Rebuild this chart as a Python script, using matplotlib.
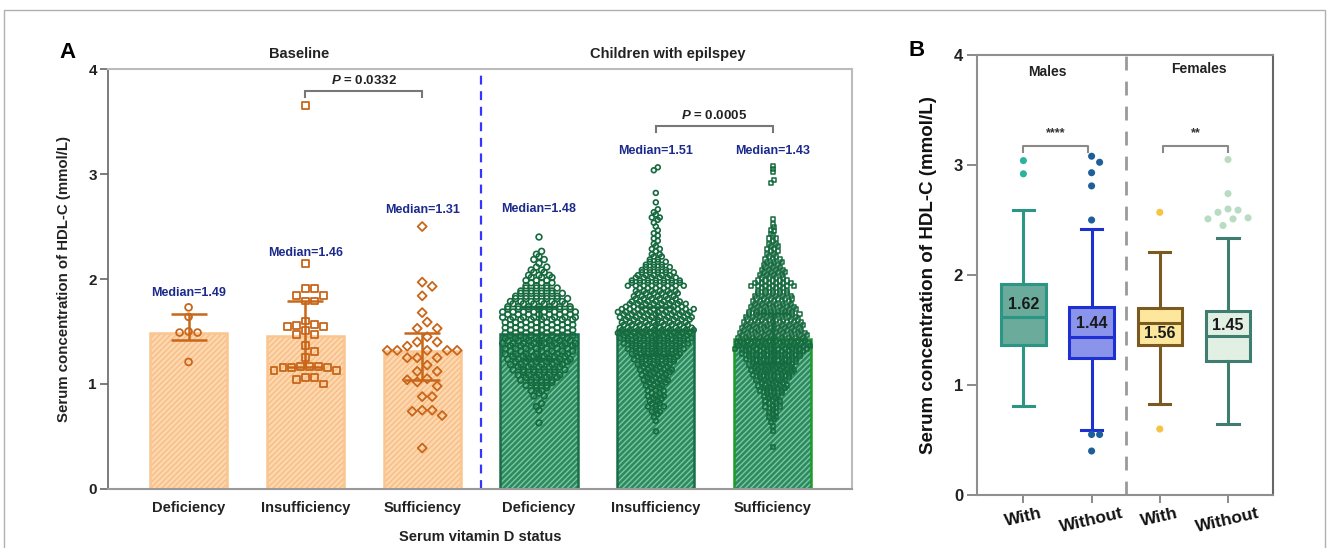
"""Vitamin D status vs serum HDL-C: bar + scatter (A) and boxplots by sex (B)."""

import numpy as np
import matplotlib
matplotlib.use("Agg")
import matplotlib.pyplot as plt
from matplotlib.patches import Rectangle

plt.rcParams["font.family"] = ["Liberation Sans", "DejaVu Sans"]
plt.rcParams["font.weight"] = "bold"
plt.rcParams["mathtext.fontset"] = "custom"
plt.rcParams["mathtext.bfit"] = "Liberation Sans:italic:bold"
plt.rcParams["mathtext.rm"] = "Liberation Sans:bold"
plt.rcParams["hatch.linewidth"] = 1.0

# ---------------- panel A data ----------------
A_CATS = ["Deficiency", "Insufficiency", "Sufficiency",
          "Deficiency", "Insufficiency", "Sufficiency"]
A_MEDIANS = [1.49, 1.46, 1.31, 1.48, 1.51, 1.43]
A_IQR_LO = [1.42, 1.16, 1.04, 1.24, 1.28, 1.20]
A_IQR_HI = [1.67, 1.79, 1.49, 1.73, 1.73, 1.68]
A_P_TEXT = ["0.0332", "0.0005"]

# baseline individual values
BASE_DEF = [1.73, 1.64, 1.50, 1.49, 1.49, 1.21]
BASE_INS = [3.65, 2.15, 1.91, 1.91, 1.84, 1.84, 1.79, 1.79, 1.60, 1.57,
            1.56, 1.55, 1.55, 1.51, 1.47, 1.47, 1.37, 1.31, 1.25, 1.17,
            1.17, 1.17, 1.16, 1.16, 1.16, 1.13, 1.13, 1.06, 1.06, 1.04, 1.00]
BASE_SUF = [2.50, 1.97, 1.93, 1.84, 1.68, 1.59, 1.53, 1.53, 1.45, 1.40,
            1.40, 1.36, 1.32, 1.32, 1.32, 1.32, 1.32, 1.25, 1.25, 1.25,
            1.18, 1.12, 1.12, 1.05, 1.04, 1.02, 0.98, 0.88, 0.88, 0.75,
            0.75, 0.74, 0.70, 0.39]

EPI_DEF_LEVELS = [2.40, 2.25, 2.20, 2.15, 2.10, 2.05, 2.00, 1.95, 1.90, 1.85,
                  1.80, 1.75, 1.70, 1.65, 1.60, 1.55, 1.50, 1.45, 1.40, 1.35,
                  1.30, 1.25, 1.20, 1.15, 1.10, 1.05, 1.00, 0.95, 0.90, 0.80,
                  0.75, 0.63]
EPI_DEF_COUNTS = [1, 2, 3, 1, 4, 5, 6, 6, 8, 10,
                  12, 13, 15, 15, 14, 14, 14, 14, 15, 14,
                  14, 13, 12, 11, 9, 8, 6, 4, 3, 2,
                  1, 1]

EPI_INS_LEVELS = [3.05, 2.82, 2.73, 2.65, 2.60, 2.55, 2.50, 2.45, 2.40, 2.35,
                  2.30, 2.25, 2.20, 2.15, 2.10, 2.05, 2.00, 1.95, 1.90, 1.85,
                  1.80, 1.75, 1.70, 1.65, 1.60, 1.55, 1.50, 1.45, 1.40, 1.35,
                  1.30, 1.25, 1.20, 1.15, 1.10, 1.05, 1.00, 0.95, 0.90, 0.85,
                  0.80, 0.75, 0.70, 0.65, 0.55]
EPI_INS_COUNTS = [2, 1, 1, 2, 3, 2, 1, 2, 2, 2,
                  3, 3, 4, 6, 8, 10, 13, 15, 11, 12,
                  13, 16, 20, 19, 18, 19, 20, 19, 17, 15,
                  13, 12, 10, 9, 8, 7, 6, 5, 5, 4,
                  5, 3, 2, 1, 1]

EPI_SUF_LEVELS = [3.08, 3.05, 3.02, 2.93, 2.57, 2.52, 2.48, 2.44, 2.40, 2.35,
                  2.30, 2.25, 2.20, 2.15, 2.10, 2.05, 2.00, 1.95, 1.90, 1.85,
                  1.80, 1.75, 1.70, 1.65, 1.60, 1.55, 1.50, 1.45, 1.40, 1.35,
                  1.30, 1.25, 1.20, 1.15, 1.10, 1.05, 1.00, 0.95, 0.90, 0.85,
                  0.80, 0.75, 0.70, 0.65, 0.60, 0.55, 0.40]
EPI_SUF_COUNTS = [1, 1, 1, 2, 1, 1, 2, 2, 3, 3,
                  4, 4, 5, 6, 7, 8, 9, 13, 9, 11,
                  12, 13, 14, 16, 17, 18, 19, 20, 21, 22,
                  18, 16, 14, 13, 12, 10, 9, 8, 6, 5,
                  5, 3, 3, 2, 1, 1, 1]

# ---------------- panel B data ----------------
B_CATS = ["With", "Without", "With", "Without"]
B_MED = [1.62, 1.44, 1.56, 1.45]
B_Q1 = [1.36, 1.25, 1.36, 1.22]
B_Q3 = [1.92, 1.71, 1.70, 1.67]
B_WLO = [0.81, 0.59, 0.83, 0.65]
B_WHI = [2.59, 2.42, 2.21, 2.34]
B_FLIERS = [[3.04, 2.92],
            [3.08, 3.025, 2.93, 2.81, 2.50, 0.55, 0.55, 0.40],
            [2.57, 0.60],
            [3.05, 2.74, 2.60, 2.59, 2.57, 2.52, 2.51, 2.51, 2.45]]
B_STARS = ["****", "**"]

# ---------------- styles ----------------
BASE_FILL, BASE_HATCH, BASE_EDGE, BASE_PT = "#fdd8ae", "#f8bd86", "#fbc590", "#c8661a"
EPI_FILL, EPI_HATCH, EPI_EDGE, EPI_PT = "#2b8a5f", "#7cc6a0", "#1b6c48", "#156a3e"
MEDIAN_TXT = "#1c2a8c"
B_FACE = ["#6aab9b", "#8a94ea", "#fde79c", "#e2f0e4"]
B_EDGE = ["#2a9683", "#1f30d0", "#7b5a22", "#3f7d70"]
B_FLIER_C = ["#2bb39d", "#1f5f99", "#f6c343", "#b8dcc2"]


def swarm(values, d_px, sx, sy):
    """Greedy beeswarm: x offsets (data units) so markers don't overlap."""
    placed, out = [], []
    for v in values:
        y = v * sy
        for k in range(400):
            m = (k + 1) // 2 * (1 if k % 2 else -1)
            x = m * d_px / 2
            if all((x - px) ** 2 + (y - py) ** 2 >= d_px ** 2 for px, py in placed):
                break
        placed.append((x, y))
        out.append(x / sx)
    return np.array(out)


def rows(levels, counts, dx, dy):
    xs, ys = [], []
    for lv, n in zip(levels, counts):
        idx = np.arange(n)
        xs.extend((idx - (n - 1) / 2) * dx)
        if n > 1:
            ys.extend(lv + np.where(idx % 2 == 0, -dy, dy))
        else:
            ys.append(lv)
    return np.array(xs), np.array(ys)


fig = plt.figure(figsize=(13.28, 5.48), dpi=100)
fig.patches.append(Rectangle((4 / 1328, -0.05), 1321 / 1328, 1.05 - 10 / 548,
                             transform=fig.transFigure, fill=False,
                             edgecolor="#b0b0b0", linewidth=1.0))

# ================= panel A =================
ax = fig.add_axes([0.0813, 0.1077, 0.5603, 0.7663])
SX, SY = 117.0, 105.0  # px per data unit
x = np.arange(len(A_CATS))
fills = [BASE_FILL] * 3 + [EPI_FILL] * 3
hatches = [BASE_HATCH] * 3 + [EPI_HATCH] * 3
edges = [BASE_EDGE] * 3 + [EPI_EDGE] * 2 + ["#1f9a2a"]
ax.bar(x, A_MEDIANS, width=0.66, color=fills, edgecolor=hatches,
       hatch="//////", linewidth=0, zorder=1)
ax.bar(x, A_MEDIANS, width=0.66, fill=False, edgecolor=edges,
       linewidth=1.8, zorder=1.5)

for i in range(6):
    c = BASE_PT if i < 3 else EPI_PT
    ax.errorbar(x[i], A_MEDIANS[i],
                yerr=[[A_MEDIANS[i] - A_IQR_LO[i]], [A_IQR_HI[i] - A_MEDIANS[i]]],
                fmt="none", ecolor=c, elinewidth=1.8, capsize=13, capthick=1.8,
                zorder=3 if i < 3 else 2)

for i, (vals, mk, s, d) in enumerate([(BASE_DEF, "o", 24, 9),
                                      (BASE_INS, "s", 24, 9),
                                      (BASE_SUF, "D", 21, 10)]):
    off = swarm(vals, d, SX, SY)
    ax.scatter(x[i] + off, vals, marker=mk, s=s, facecolors="none",
               edgecolors=BASE_PT, linewidths=1.3, zorder=4)

for i, (lv, ct, mk, s, dx, lw) in zip(
        [3, 4, 5],
        [(EPI_DEF_LEVELS, EPI_DEF_COUNTS, "o", 17, 5.2, 1.2),
         (EPI_INS_LEVELS, EPI_INS_COUNTS, "o", 12, 4.0, 1.2),
         (EPI_SUF_LEVELS, EPI_SUF_COUNTS, "s", 9, 3.6, 1.1)]):
    xs, ys = rows(lv, ct, dx / SX, 0.014)
    ax.scatter(x[i] + xs, ys, marker=mk, s=s, facecolors="none",
               edgecolors=EPI_PT, linewidths=lw, zorder=4)

median_y = [1.87, 2.25, 2.66, 2.67, 3.22, 3.22]
for i in range(6):
    ax.text(x[i], median_y[i], f"Median={A_MEDIANS[i]:.2f}", ha="center",
            va="center", fontsize=9, fontweight="bold", color=MEDIAN_TXT)

for (a, b), yb, yt, p in [((1, 2), 3.79, 3.89, A_P_TEXT[0]),
                          ((4, 5), 3.46, 3.56, A_P_TEXT[1])]:
    ax.plot([a, a, b, b], [yb - 0.06, yb, yb, yb - 0.06], color="#777777",
            linewidth=1.5, solid_joinstyle="miter", zorder=5)
    ax.text((a + b) / 2, yt, r"$\mathbfit{P}$ = " + p, ha="center",
            va="center", fontsize=9.5, fontweight="bold", color="#222222")

ax.axvline(2.5, ymin=0, ymax=1, color="#3535ff", linewidth=1.6,
           dashes=(4, 3), zorder=0.5)

ax.text(0.95, 4.14, "Baseline", ha="center", va="center", fontsize=10.5,
        fontweight="bold", color="#222222", clip_on=False)
ax.text(4.1, 4.14, "Children with epilspey", ha="center", va="center",
        fontsize=10.5, fontweight="bold", color="#222222", clip_on=False)

ax.set_xlim(-0.69, 5.68)
ax.set_ylim(0, 4)
ax.set_yticks([0, 1, 2, 3, 4])
ax.set_xticks(x)
ax.set_xticklabels(A_CATS, fontsize=10.5, fontweight="bold")
ax.tick_params(axis="x", length=0, pad=9, colors="#222222")
ax.tick_params(axis="y", length=6, width=1.2, labelsize=11, pad=2,
               color="#666666", labelcolor="#222222")
for lab in ax.get_yticklabels():
    lab.set_fontweight("bold")
ax.spines["left"].set_color("#666666")
ax.spines["left"].set_linewidth(1.2)
ax.spines["bottom"].set_color("#999999")
ax.spines["bottom"].set_linewidth(1.5)
ax.spines["top"].set_color("#bbbbbb")
ax.spines["top"].set_linewidth(1.5)
ax.spines["right"].set_color("#bbbbbb")
ax.spines["right"].set_linewidth(1.5)
ax.set_ylabel("Serum concentration of HDL-C (mmol/L)", fontsize=10.8,
              fontweight="bold", color="#222222")
ax.yaxis.set_label_coords(-0.05, 0.5)

fig.text(480 / 1328, 1 - 537 / 548, "Serum vitamin D status", ha="center",
         va="center", fontsize=10.5, fontweight="bold", color="#222222")
fig.text(68 / 1328, 1 - 52 / 548, "A", ha="center", va="center",
         fontsize=16, fontweight="bold")
fig.text(917 / 1328, 1 - 50 / 548, "B", ha="center", va="center",
         fontsize=16, fontweight="bold")

# ================= panel B =================
bx = fig.add_axes([0.7357, 0.0967, 0.2229, 0.8029])
BSX, BSY = 68.0, 110.0
stats = [dict(med=B_MED[i], q1=B_Q1[i], q3=B_Q3[i], whislo=B_WLO[i],
              whishi=B_WHI[i], fliers=[]) for i in range(4)]
pos = np.arange(4)
for i in range(4):
    bx.bxp([stats[i]], positions=[pos[i]], widths=0.65, capwidths=[0.31],
           patch_artist=True, showfliers=False,
           boxprops=dict(facecolor=B_FACE[i], edgecolor=B_EDGE[i], linewidth=2.2),
           medianprops=dict(color=B_EDGE[i], linewidth=2.2),
           whiskerprops=dict(color=B_EDGE[i], linewidth=2.2),
           capprops=dict(color=B_EDGE[i], linewidth=2.2))
    off = swarm(B_FLIERS[i], 10 if i == 3 else 8, BSX, BSY)
    bx.scatter(pos[i] + off, B_FLIERS[i], s=26, color=B_FLIER_C[i],
               edgecolors="none", zorder=4)

label_y = [1.73, 1.56, 1.47, 1.545]
for i in range(4):
    bx.text(pos[i], label_y[i], f"{B_MED[i]:.2f}", ha="center", va="center",
            fontsize=11.5, fontweight="bold", color="#1a1a1a", zorder=5)

for (a, b), st in zip([(0, 0.95), (2.05, 3)], B_STARS):
    bx.plot([a, a, b, b], [3.12, 3.17, 3.17, 3.12], color="#8a8a8a",
            linewidth=1.5)
    bx.text((a + b) / 2, 3.29, st, ha="center", va="center", fontsize=9,
            fontweight="bold", color="#333333")

bx.text(0.35, 3.85, "Males", ha="center", va="center", fontsize=10,
        fontweight="bold", color="#222222")
bx.text(2.57, 3.87, "Females", ha="center", va="center", fontsize=10,
        fontweight="bold", color="#222222")
bx.axvline(1.5, color="#9a9a9a", linewidth=2, dashes=(5, 4), zorder=0.5)

bx.set_xlim(-0.68, 3.66)
bx.set_ylim(0, 4)
bx.set_yticks([0, 1, 2, 3, 4])
bx.set_xticks(pos)
bx.set_xticklabels(B_CATS, fontsize=12.5, fontweight="bold", rotation=13)
for lab in bx.get_yticklabels():
    lab.set_fontweight("bold")
bx.tick_params(axis="y", length=7, width=1.2, labelsize=12, pad=3,
               color="#777777", labelcolor="#222222")
bx.tick_params(axis="x", length=6, width=1.2, pad=2, color="#777777",
               labelcolor="#111111")
for side in ["left", "bottom", "top", "right"]:
    bx.spines[side].set_color("#8f8f8f")
    bx.spines[side].set_linewidth(1.5)
bx.spines["right"].set_color("#666666")
bx.set_ylabel("Serum concentration of HDL-C (mmol/L)", fontsize=13.5,
              fontweight="bold", color="#111111")
bx.yaxis.set_label_coords(-0.135, 0.5)

fig.savefig("out.png", dpi=100, facecolor="white")
